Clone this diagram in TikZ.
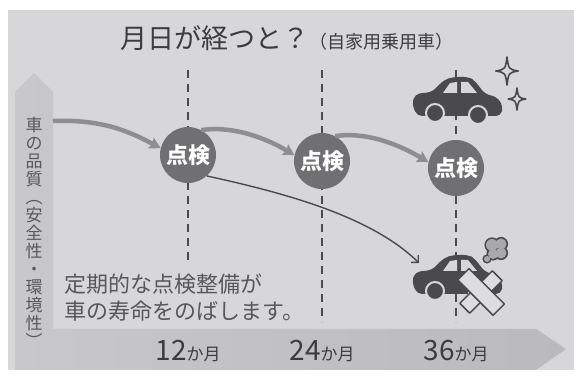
\documentclass[tikz,border=0pt]{standalone}
\usepackage{fontspec}
\usepackage{xcolor}
\usepackage{tikz}
\usetikzlibrary{arrows.meta,positioning}
\newfontfamily\jp{Noto Sans CJK JP}
\definecolor{PanelGray}{HTML}{D7D7D9}
\definecolor{BandLight}{HTML}{C8C8CA}
\definecolor{BandDark}{HTML}{BABABC}
\definecolor{CarDark}{HTML}{4A4A4C}
\definecolor{CheckGray}{HTML}{707072}
\definecolor{FlowGray}{HTML}{8E8E90}
\definecolor{TextDark}{HTML}{3C3C3E}
\definecolor{TextMid}{HTML}{58585A}
\definecolor{SmokeGray}{HTML}{A9A9AB}
\definecolor{TapeLight}{HTML}{DDDDDF}

\tikzset{
  car/.pic={
    \fill[CarDark, rounded corners=5pt] (-40,18) -- (-45,6) -- (-42,-4) -- (-25,-6)
      -- (-13,-18) -- (-4,-21) -- (12,-21) -- (18,-17) -- (28,-4) -- (40,-1)
      -- (46,8) -- (44,18) -- cycle;
    \fill[PanelGray] (-14,-5) -- (-7,-15) -- (0,-16) -- (0,-5) -- cycle
      (4,-5) -- (4,-16) -- (11,-16) -- (20,-5) -- cycle;
    \filldraw[fill=CarDark, draw=PanelGray, line width=2pt]
      (-22,15) circle (9pt) (21,17) circle (9pt);
  },
  sparkle/.pic={
    \draw[CarDark, fill=PanelGray, line width=1.6pt, line join=round]
      (0,-#1) .. controls (0.12*#1,-0.12*#1) .. (0.8*#1,0)
      .. controls (0.12*#1,0.12*#1) .. (0,#1)
      .. controls (-0.12*#1,0.12*#1) .. (-0.8*#1,0)
      .. controls (-0.12*#1,-0.12*#1) .. cycle;
  }
}

\begin{document}
\begin{tikzpicture}[x=1pt, y=-1pt,
    every node/.style={font=\jp},
    check/.style={circle, fill=CheckGray, minimum size=56pt, inner sep=0pt,
      text=white, font=\jp\bfseries\fontsize{22}{22}\selectfont},
    month/.style={text=TextDark, inner sep=0pt},
    flow/.style={line width=4.5pt, draw=FlowGray,
      -{Stealth[length=11pt,width=12pt,inset=2pt]}},
    wear/.style={line width=1.4pt, draw=CarDark,
      -{Straight Barb[length=5pt,width=10pt]}},
    grid/.style={CarDark, line width=1.3pt, dash pattern=on 8pt off 6pt},
    tape/.style={fill=TapeLight, draw=CarDark, line width=1.5pt, line join=round}]
  \fill[white] (0,0) rectangle (574,379);
  \fill[PanelGray] (8,10) rectangle (574,370);
  % axes as one bent arrow
  \shade[left color=BandLight, right color=BandDark]
    (15,370) -- (15,92) -- (34,73) -- (53,92) -- (53,329) -- (536,329)
    -- (566,349) -- (536,370) -- cycle;
  \foreach \x/\yend in {188/264, 322/322, 456/322} \draw[grid] (\x,70) -- (\x,\yend);

  \node[text=TextDark] (title) at (287,38)
    {{\fontsize{27}{30}\selectfont 月日が経つと？}{\fontsize{18}{20}\selectfont（自家用乗用車）}};
  \node[text=TextMid, align=center, inner sep=0pt, font=\jp\fontsize{17}{18}\selectfont]
    (quality) at (34,232)
    {車\\の\\品\\質\\︵\\安\\全\\性\\・\\環\\境\\性\\︶};
  \node[text=TextMid, align=left, anchor=west, inner sep=0pt,
    font=\jp\fontsize{22}{27}\selectfont] (note) at (64,298)
    {定期的な点検整備が\\車の寿命をのばします。};

  \node[check] (ck1) at (188,155) {点検};
  \node[check] (ck2) at (322,161) {点検};
  \node[check] (ck3) at (456,168) {点検};

  \node[month] (m12) at (188,351) {{\fontsize{28}{28}\selectfont 12}{\fontsize{17}{17}\selectfont か月}};
  \node[month] (m24) at (322,351) {{\fontsize{28}{28}\selectfont 24}{\fontsize{17}{17}\selectfont か月}};
  \node[month] (m36) at (456,351) {{\fontsize{28}{28}\selectfont 36}{\fontsize{17}{17}\selectfont か月}};

  \coordinate (qstart) at (53,121);
  \coordinate (hit) at (419,263);
  \draw[flow] (qstart) .. controls +(50,-2) and +(-30,-16) .. (ck1.166);
  \draw[flow] (ck1.62) .. controls +(34,-5) and +(-25,-15) .. (ck2.168);
  \draw[flow] (ck2.62) .. controls +(34,-5) and +(-25,-15) .. (ck3.168);
  \draw[wear] (ck1.-48) .. controls (280,192) and (370,215) .. (hit);

  % well kept car
  \pic at (457,98) {car};
  \pic at (507,71) {sparkle=14};
  \pic at (517,99) {sparkle=11};

  % worn out car with smoke and tape
  \pic at (457,276) {car};
  \begin{scope}[shift={(496,249)}]
    \foreach \cx/\cy/\r in {-4/-4/7.6, 5/-5/7.1, 5/4/7.1, -3/5/6.6, -9/10/4.6}
      \fill[CarDark] (\cx,\cy) circle (\r pt);
    \foreach \cx/\cy/\r in {-4/-4/6, 5/-5/5.5, 5/4/5.5, -3/5/5, -9/10/3}
      \fill[SmokeGray] (\cx,\cy) circle (\r pt);
  \end{scope}
  \begin{scope}[shift={(481,292)}]
    \filldraw[tape, rotate=45] (-23,-7) rectangle (23,7);
    \filldraw[tape, rotate=-45] (-25,-8) rectangle (25,8);
  \end{scope}
\end{tikzpicture}
\end{document}
